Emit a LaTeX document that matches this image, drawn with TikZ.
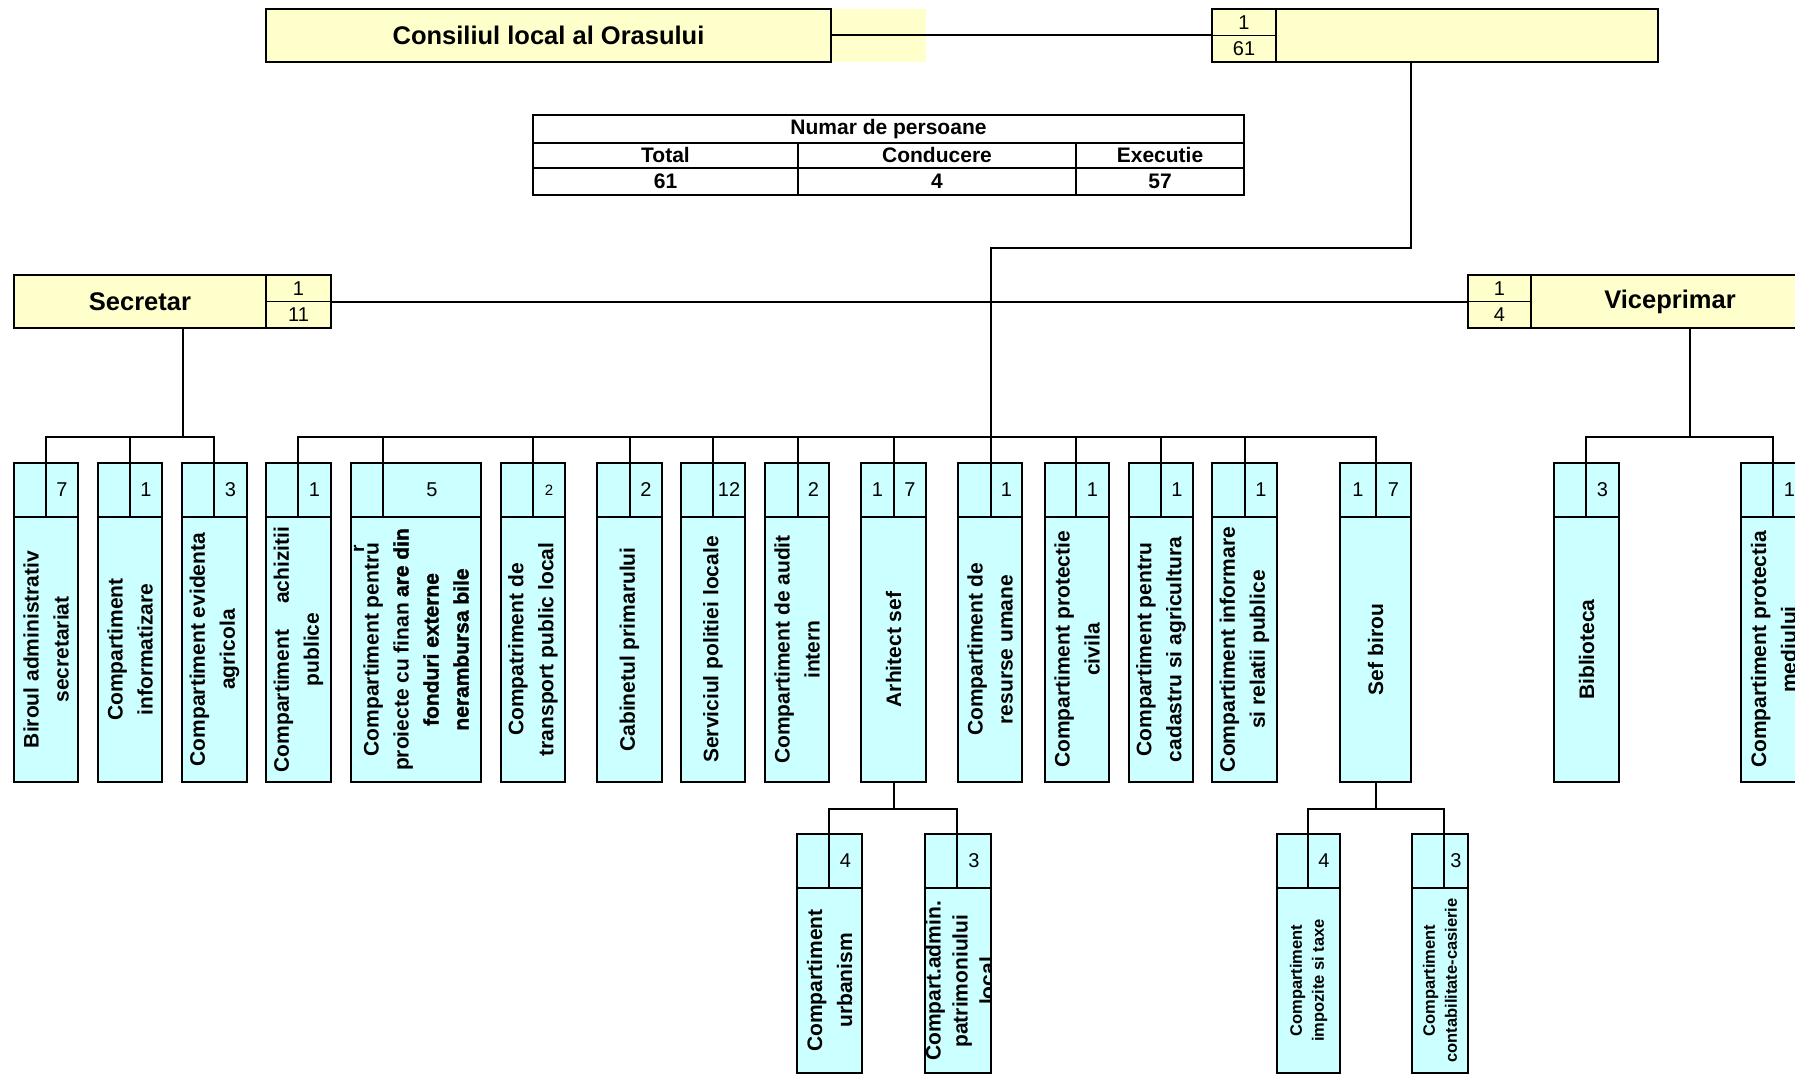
\documentclass[tikz,border=0pt]{standalone}
\usepackage{fontspec}
\setmainfont{Liberation Sans}
\newfontfamily\heavyfont{Liberation Sans Bold}[FakeBold=1.5]
\definecolor{yfill}{HTML}{FFFFCC}
\definecolor{cfill}{HTML}{CCFFFF}
\newcommand{\dept}[9]{%
\draw[deptbox](#2,#5) rectangle (#4,#6);
\draw(#2,#5+54)--(#4,#5+54);
\draw(#3,#5)--(#3,#5+54);
\node[num](#1-a) at ({(#2+#3)/2},#5+27){#7};
\node[num](#1-b) at ({(#3+#4)/2},#5+27){#8};
\node[depttext](#1) at ({(#2+#4)/2},{(#5+54+#6)/2}){#9};
\coordinate(#1-in) at (#3,#5);
\coordinate(#1-out) at (#3,#6);
}

\begin{document}
\begin{tikzpicture}[x=1pt,y=-1pt,line width=2pt,
  ybox/.style={draw,fill=yfill,inner sep=0pt,outer sep=0pt,font=\bfseries\fontsize{25.5}{30}\selectfont},
  ycell/.style={draw,fill=yfill,line width=1.5pt,inner sep=0pt,outer sep=0pt,font=\fontsize{20}{24}\selectfont},
  deptbox/.style={fill=cfill},
  num/.style={inner sep=0pt,font=\fontsize{20}{24}\selectfont},
  depttext/.style={rotate=90,align=center,inner sep=0pt,font=\bfseries\fontsize{21}{30}\selectfont},
  small/.style={font=\bfseries\fontsize{16.5}{22}\selectfont},
  conn/.style={line width=2pt},
  tabtext/.style={inner sep=0pt,font=\bfseries\fontsize{21}{25}\selectfont}]
\clip(0,0) rectangle (1795,1075);

\fill[yfill](831,9) rectangle (926,62);
\node[ybox,minimum width=565,minimum height=53](consiliu) at (548.5,35.5){Consiliul local al Orasului};
\node[ybox,minimum width=382,minimum height=53](primar) at (1467,35.5){};
\node[ycell,minimum width=64,minimum height=26.5](p1) at (1244,22.25){1};
\node[ycell,minimum width=64,minimum height=26.5](p61) at (1244,48.75){61};

\draw(533,115) rectangle (1244,194.7);
\draw(533,142.7)--(1244,142.7);
\draw(533,167.7)--(1244,167.7);
\draw(798,142.7)--(798,194.7);
\draw(1076,142.7)--(1076,194.7);
\node[tabtext](numar) at (888.5,129){Numar de persoane};
\node[tabtext](total) at (665.5,155.2){Total};
\node[tabtext](cond) at (937,155.2){Conducere};
\node[tabtext](exec) at (1160,155.2){Executie};
\node[tabtext](ntotal) at (665.5,181.2){61};
\node[tabtext](ncond) at (937,181.2){4};
\node[tabtext](nexec) at (1160,181.2){57};

\node[ybox,minimum width=252,minimum height=53](secretar) at (140,301.5){Secretar};
\node[ycell,minimum width=65,minimum height=26.5](s1) at (298.5,288.25){1};
\node[ycell,minimum width=65,minimum height=26.5](s11) at (298.5,314.75){11};
\node[ybox,minimum width=278,minimum height=53](vice) at (1670,301.5){Viceprimar};
\node[ycell,minimum width=63,minimum height=26.5](v1) at (1499.5,288.25){1};
\node[ycell,minimum width=63,minimum height=26.5](v4) at (1499.5,314.75){4};

\dept{biroul}{14}{46}{78}{463}{782}{}{7}{Biroul administrativ\\secretariat}
\dept{informat}{98}{130}{162}{463}{782}{}{1}{Compartiment\\informatizare}
\dept{agricol}{182}{214}{247}{463}{782}{}{3}{Compartiment evidenta\\agricola}
\dept{achiz}{266}{298}{331}{463}{782}{}{1}{Compartiment\hspace{26pt}achizitii\\publice}
\dept{proiecte}{351}{383}{481}{463}{782}{}{5}{Compartiment pentru\\proiecte cu finan {\heavyfont are din}\\{\heavyfont fonduri externe}\\{\heavyfont nerambursa bile}}
\dept{transport}{501}{533}{565}{463}{782}{}{{\fontsize{15}{18}\selectfont 2}}{Compatriment de\\transport public local}
\dept{cabinet}{597}{630}{662}{463}{782}{}{2}{Cabinetul primarului}
\dept{politie}{681}{713}{745}{463}{782}{}{12}{Serviciul politiei locale}
\dept{audit}{765}{798}{829}{463}{782}{}{2}{Compartiment de audit\\intern}
\dept{arhitect}{861}{894}{926}{463}{782}{1}{7}{Arhitect sef}
\dept{resurse}{958}{991}{1022}{463}{782}{}{1}{Compartiment de\\resurse umane}
\dept{civila}{1045}{1076}{1109}{463}{782}{}{1}{Compartiment protectie\\civila}
\dept{cadastru}{1129}{1161}{1193}{463}{782}{}{1}{Compartiment pentru\\cadastru si agricultura}
\dept{informare}{1212}{1245}{1277}{463}{782}{}{1}{Compartiment informare\\si relatii publice}
\dept{sefbirou}{1340}{1376}{1411}{463}{782}{1}{7}{Sef birou}
\dept{biblio}{1554}{1586}{1619}{463}{782}{}{3}{Biblioteca}
\dept{mediu}{1741}{1773}{1806}{463}{782}{}{1}{Compartiment protectia\\mediului}
\node[rotate=90,inner sep=0pt,font=\bfseries\fontsize{19}{19}\selectfont](stray) at (359,549){r};

\dept{urban}{797}{829}{862}{834}{1073}{}{4}{Compartiment\\urbanism}
\dept{patrim}{925}{957}{991}{834}{1073}{}{3}{}
\begin{scope}
\clip(925,888) rectangle (991,1073);
\node[depttext,font=\bfseries\fontsize{21}{27}\selectfont](patrimtext) at (960,981){Compart.admin.\\patrimoniului\\local};
\end{scope}
\begin{scope}[depttext/.append style={small}]
\dept{impozite}{1277}{1308}{1340}{834}{1073}{}{4}{Compartiment\\impozite si taxe}
\dept{contab}{1412}{1444}{1468}{834}{1073}{}{3}{Compartiment\\contabilitate-casierie}
\end{scope}

\draw[conn](consiliu.east)--(p1.south west);
\draw[conn](s1.south east)--(v1.south west);
\coordinate(pdrop) at (1411,62);
\coordinate(pturn) at (991,247.7);
\coordinate(mbus) at (991,437);
\draw[conn](pdrop)|-(pturn)--(resurse-in);
\draw[conn](achiz-in)|-(mbus)-|(sefbirou-in);
\foreach \n in {proiecte,transport,cabinet,politie,audit,arhitect,civila,cadastru,informare}
  \draw[conn](\n-in)--(\n-in|-mbus);
\coordinate(sdrop) at (182.5,328);
\draw[conn](sdrop)--(sdrop|-mbus);
\draw[conn](biroul-in)|-(sdrop|-mbus)-|(agricol-in);
\draw[conn](informat-in)--(informat-in|-mbus);
\coordinate(vdrop) at (1690,328);
\draw[conn](vdrop)--(vdrop|-mbus);
\draw[conn](biblio-in)|-(vdrop|-mbus)-|(mediu-in);
\draw[conn](arhitect-out)--++(0,27)coordinate(abus);
\draw[conn](urban-in)|-(abus)-|(patrim-in);
\draw[conn](sefbirou-out)--++(0,27)coordinate(sbus);
\draw[conn](impozite-in)|-(sbus)-|(contab-in);
\end{tikzpicture}
\end{document}
